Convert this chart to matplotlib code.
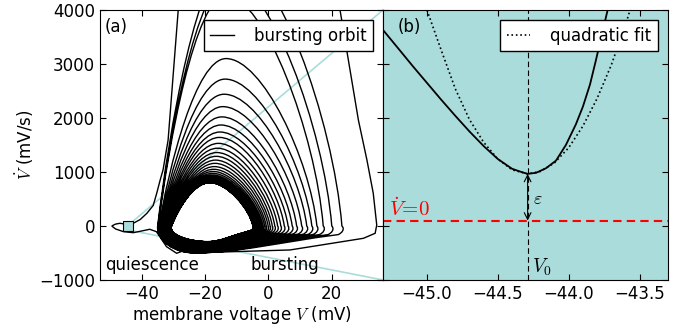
import numpy as np
import matplotlib.pyplot as plt
from matplotlib.path import Path
from matplotlib.patches import PathPatch, Rectangle, ConnectionPatch

plt.rcParams['font.family'] = 'DejaVu Sans'
plt.rcParams['font.size'] = 12
plt.rcParams['mathtext.fontset'] = 'cm'
plt.rcParams['xtick.direction'] = 'in'
plt.rcParams['ytick.direction'] = 'in'
plt.rcParams['xtick.top'] = True
plt.rcParams['ytick.right'] = True
plt.rcParams['xtick.major.size'] = 4
plt.rcParams['ytick.major.size'] = 4

cyan = '#aadcdc'

# ---- panel (a): bursting orbit ----
# upstroke from quiescence (left tip) into the first spike
up_v = [-49.5, -48.3, -46.9, -44.3, -42.7, -40.5, -38.4, -36.4, -35.3, -34.2, -33.3, -31.7, -28.5, -27.4]
up_vd = [0, 35, 50, 25, 50, 120, 235, 380, 605, 852, 1037, 1590, 4000, 4500]
# downstroke of the first (largest) spike and its return along the bottom
s1_v = [21.4, 22.6, 28.4, 31.1, 33.1, 34.2, 33.7, 30.0, 6.8, -21.6]
s1_vd = [4500, 4000, 1963, 1222, 605, 18, -135, -228, -444, -494]
# following spikes: peak height, peak position, right/left crossing of Vdot=0, bottom
peak_vd = [4950, 4550, 4260, 3100, 2720, 2440, 2210, 2020, 1870, 1740, 1640, 1530, 1440,
           1360, 1290, 1220, 1160, 1100, 1050, 1010, 975, 945, 920, 900, 882, 867, 855,
           845, 836, 829, 823, 818, 814, 811, 808, 806, 804, 803, 802]
peak_v = [-11.5, -12.5, -13.5, -13.4, -13.7, -14.0, -14.4, -14.7, -15.0, -15.3, -15.5,
          -15.8, -16.1, -16.3, -16.5, -16.7, -16.9, -17.1, -17.3, -17.5, -17.6, -17.7,
          -17.8, -17.9, -18.0, -18.1, -18.2, -18.2, -18.3, -18.3, -18.4, -18.4, -18.4,
          -18.5, -18.5, -18.5, -18.5, -18.5, -18.5]
right_v = [23.2, 20.0, 17.3, 15.3, 13.7, 12.1, 10.5, 8.9, 7.5, 6.2, 5.0, 3.9, 2.9, 2.0,
           1.2, 0.5, -0.1, -0.7, -1.2, -1.7, -2.1, -2.5, -2.8, -3.1, -3.4, -3.6, -3.8,
           -4.0, -4.15, -4.3, -4.4, -4.5, -4.6, -4.7, -4.75, -4.8, -4.85, -4.9, -4.9]
left_v = [-35.0, -34.9, -34.8, -34.6, -34.4, -34.2, -34.0, -33.8, -33.6, -33.4, -33.2,
          -33.0, -32.8, -32.6, -32.4, -32.2, -32.0, -31.9, -31.8, -31.7, -31.6, -31.5,
          -31.4, -31.3, -31.2, -31.1, -31.0, -30.95, -30.9, -30.85, -30.8, -30.75, -30.7,
          -30.7, -30.65, -30.65, -30.6, -30.6, -30.6]
bottom_vd = [-500, -498, -495, -490, -485, -480, -472, -465, -457, -450, -440, -432, -423,
             -414, -405, -396, -387, -379, -371, -363, -355, -348, -341, -334, -328, -322,
             -317, -312, -308, -304, -301, -298, -296, -294, -293, -292, -291, -290, -290]
# end of the burst: from the band back to quiescence
exit_v = [-29.0, -32.2, -34.3, -35.4, -37.5, -39.6, -42.7, -45.8, -48.3, -49.5]
exit_vd = [-505, -383, -198, -105, -61, -87, -124, -105, -55, 0]

# ---- panel (b): zoom near the bottleneck ----
b_v = [-45.31, -45.2, -45.1, -45.0, -44.9, -44.8, -44.7, -44.6, -44.5, -44.4, -44.34, -44.29,
       -44.23, -44.16, -44.09, -44.02, -43.95, -43.90, -43.85, -43.81, -43.77, -43.73, -43.71]
b_vd = [3.53, 3.18, 2.86, 2.55, 2.24, 1.94, 1.65, 1.38, 1.14, 0.96, 0.905, 0.865,
        0.885, 0.97, 1.11, 1.40, 1.78, 2.11, 2.52, 2.95, 3.40, 3.85, 4.05]
fit_v = [-45.0, -44.9, -44.8, -44.7, -44.6, -44.5, -44.4, -44.29, -44.2, -44.1, -44.0,
         -43.9, -43.8, -43.7, -43.6, -43.55]
fit_vd = [3.90, 3.16, 2.44, 1.87, 1.45, 1.14, 0.94, 0.865, 0.91, 1.07, 1.35, 1.75,
          2.26, 2.88, 3.62, 4.05]
V0 = -44.29
eps_top = 0.865


def build_orbit():
    verts, codes = [], []

    def line(p):
        verts.append(p)
        codes.append(Path.LINETO)

    def curve(c1, c2, p):
        verts.extend([c1, c2, p])
        codes.extend([Path.CURVE4] * 3)

    verts.append((up_v[0], up_vd[0]))
    codes.append(Path.MOVETO)
    for v, d in zip(up_v[1:], up_vd[1:]):
        line((v, d))
    for v, d in zip(s1_v, s1_vd):
        line((v, d))
    gv, gd = s1_v[-1], s1_vd[-1]
    for i in range(len(peak_vd)):
        L, Vp, P, R, B = left_v[i], peak_v[i], peak_vd[i], right_v[i], bottom_vd[i]
        dl = Vp - L
        dr = R - Vp
        # bottom -> left crossing
        s = 0.55 * abs(gd) / (0.35 * P)
        curve((gv - 0.55 * (gv - L), gd), (L - 0.15 * dl * s, -0.35 * P * s), (L, 0))
        # upstroke -> peak
        curve((L + 0.15 * dl, 0.35 * P), (Vp - 0.45 * dl, P), (Vp, P))
        # downstroke -> right crossing
        curve((Vp + 0.4 * dr, P), (R - 0.08 * dr, 0.4 * P), (R, 0))
        # corner and bottom
        G = (L + 0.45 * min(R - L, 26), B)
        K = (R - 1.2, 0.32 * B)
        curve((R + 0.03 * dr, 0.12 * B), (R - 0.1, 0.27 * B), K)
        curve((K[0] + 0.4 * (G[0] - K[0]), K[1] + 0.4 * (G[1] - K[1])),
              (G[0] + 0.3 * (K[0] - G[0]), B), G)
        gv, gd = G
    for v, d in zip(exit_v, exit_vd):
        line((v, d))
    return Path(verts, codes)


fig = plt.figure(figsize=(6.87, 3.25), dpi=100)
ax1 = fig.add_axes([0.1456, 0.1385, 0.412, 0.8308])
ax2 = fig.add_axes([0.5575, 0.1385, 0.4148, 0.8308])

ax1.add_patch(PathPatch(build_orbit(), fill=False, edgecolor='k', lw=1.0, zorder=2))
ax1.plot([], [], 'k-', lw=1.0, label='bursting orbit')
ax1.add_patch(Rectangle((-45.9, -93), 3.2, 186, facecolor=cyan, edgecolor='k', lw=0.8, zorder=3))
ax1.set_xlim(-53.2, 36.2)
ax1.set_ylim(-1000, 4000)
ax1.set_xticks([-40, -20, 0, 20])
ax1.set_yticks([-1000, 0, 1000, 2000, 3000, 4000])
ax1.set_xlabel('membrane voltage $V$ (mV)', labelpad=1)
ax1.set_ylabel(r'$\dot{V}$ (mV/s)', labelpad=2)
ax1.text(0.018, 0.937, '(a)', transform=ax1.transAxes, va='center')
ax1.text(0.018, 0.056, 'quiescence', transform=ax1.transAxes, va='center')
ax1.text(0.53, 0.056, 'bursting', transform=ax1.transAxes, va='center')
leg_kw = dict(loc='upper right', handlelength=1.4, handletextpad=1.2, borderpad=0.4,
              borderaxespad=0.6, fancybox=False, framealpha=1, edgecolor='k')
leg1 = ax1.legend(**leg_kw)
leg1.get_frame().set_linewidth(1.0)

for xa, xb in [((-42.7, 93), (0, 1)), ((-42.7, -93), (0, 0))]:
    con = ConnectionPatch(xyA=xa, coordsA=ax1.transData, xyB=xb, coordsB=ax2.transAxes,
                          color=cyan, lw=1.2, zorder=1)
    ax1.add_artist(con)

ax2.set_facecolor(cyan)
ax2.plot(b_v, b_vd, 'k-', lw=1.3)
ax2.plot(fit_v, fit_vd, 'k:', lw=1.2, label='quadratic fit')
ax2.axhline(0, color='red', lw=1.5, ls=(0, (4, 2.5)))
ax2.axvline(V0, color='k', lw=0.8, ls=(0, (5, 3)))
ax2.annotate('', xy=(V0, 0), xytext=(V0, eps_top),
             arrowprops=dict(arrowstyle='<->', color='k', lw=0.8, shrinkA=0, shrinkB=0))
ax2.text(V0 + 0.04, 0.40, r'$\varepsilon$', fontsize=13, va='center')
ax2.text(V0 + 0.03, -0.86, r'$V_0$', fontsize=14, va='center')
ax2.text(-45.27, 0.02, r'$\dot{V}\!=\!0$', fontsize=15, color='red', va='bottom')
ax2.text(0.053, 0.937, '(b)', transform=ax2.transAxes, va='center')
ax2.set_xlim(-45.31, -43.30)
ax2.set_ylim(-1.1, 3.9)
ax2.set_xticks([-45.0, -44.5, -44.0, -43.5])
ax2.set_yticks(np.linspace(-1.1, 3.9, 6))
ax2.set_yticklabels([])
leg2 = ax2.legend(**leg_kw)
leg2.get_frame().set_linewidth(1.0)

fig.savefig('out.png', dpi=100)
